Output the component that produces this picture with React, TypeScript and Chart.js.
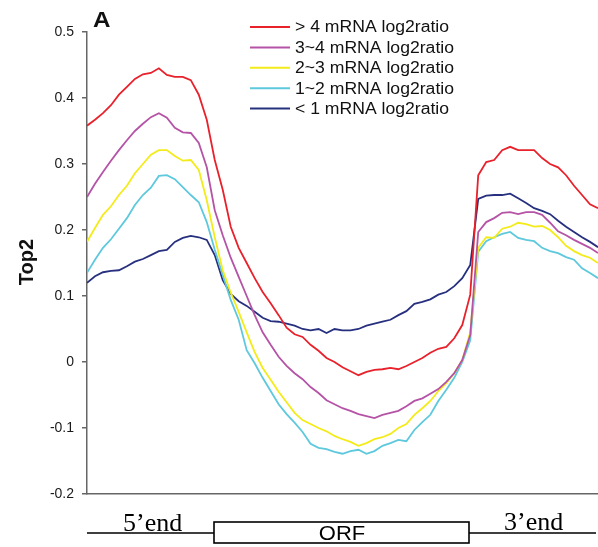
import React, { useEffect, useRef } from "react";
import { Chart, registerables } from "chart.js";

Chart.register(...registerables);

// Position index along the gene model (5' end -> ORF -> 3' end)
const positions: number[] = Array.from({ length: 65 }, (_, i) => i);

const seriesLabels = [
  "> 4 mRNA log2ratio",
  "3~4 mRNA log2ratio",
  "2~3 mRNA log2ratio",
  "1~2 mRNA log2ratio",
  "< 1 mRNA log2ratio",
];

const seriesColors = ["#e8212b", "#b553a6", "#f4eb1a", "#5ec8dd", "#27307f"];

const gt4 = [
  0.358, 0.367, 0.377, 0.389, 0.405, 0.417, 0.429, 0.436, 0.438, 0.445,
  0.435, 0.432, 0.432, 0.427, 0.405, 0.367, 0.306, 0.261, 0.205, 0.173,
  0.15, 0.127, 0.106, 0.089, 0.071, 0.052, 0.042, 0.038, 0.026, 0.017,
  0.006, 0.0, -0.008, -0.014, -0.02, -0.015, -0.012, -0.011, -0.009, -0.011,
  -0.006, 0.0, 0.006, 0.014, 0.02, 0.023, 0.036, 0.056, 0.102, 0.283,
  0.303, 0.306, 0.321, 0.326, 0.321, 0.321, 0.321, 0.309, 0.3, 0.295,
  0.283, 0.267, 0.253, 0.239, 0.233,
];

const r3to4 = [
  0.25, 0.27, 0.288, 0.305, 0.321, 0.336, 0.35, 0.361, 0.371, 0.377,
  0.37, 0.355, 0.348, 0.347, 0.332, 0.295, 0.23, 0.192, 0.158, 0.129,
  0.1, 0.071, 0.045, 0.026, 0.008, -0.006, -0.017, -0.026, -0.038, -0.047,
  -0.058, -0.064, -0.07, -0.074, -0.079, -0.082, -0.085, -0.08, -0.077, -0.074,
  -0.067, -0.059, -0.055, -0.048, -0.041, -0.03, -0.017, 0.003, 0.041, 0.197,
  0.212, 0.218, 0.226, 0.227, 0.224, 0.227, 0.227, 0.223, 0.211, 0.198,
  0.192, 0.185, 0.179, 0.173, 0.165,
];

const r2to3 = [
  0.182, 0.203, 0.223, 0.236, 0.253, 0.267, 0.286, 0.3, 0.314, 0.321,
  0.321, 0.312, 0.305, 0.306, 0.291, 0.245, 0.189, 0.139, 0.105, 0.076,
  0.045, 0.015, -0.009, -0.027, -0.045, -0.061, -0.077, -0.088, -0.094, -0.1,
  -0.105, -0.112, -0.117, -0.121, -0.127, -0.123, -0.117, -0.114, -0.109, -0.1,
  -0.094, -0.08, -0.07, -0.059, -0.044, -0.032, -0.017, 0.003, 0.045, 0.173,
  0.189, 0.188, 0.202, 0.205, 0.211, 0.209, 0.205, 0.206, 0.2, 0.189,
  0.176, 0.168, 0.162, 0.158, 0.15,
];

const r1to2 = [
  0.135, 0.155, 0.173, 0.186, 0.202, 0.218, 0.238, 0.253, 0.264, 0.282,
  0.283, 0.277, 0.265, 0.253, 0.242, 0.212, 0.17, 0.132, 0.094, 0.064,
  0.018, -0.002, -0.024, -0.044, -0.064, -0.079, -0.092, -0.106, -0.124, -0.13,
  -0.132, -0.136, -0.139, -0.135, -0.133, -0.139, -0.135, -0.127, -0.123, -0.118,
  -0.12, -0.103, -0.091, -0.08, -0.059, -0.042, -0.024, 0.0, 0.033, 0.167,
  0.183, 0.189, 0.194, 0.197, 0.188, 0.185, 0.183, 0.173, 0.168, 0.165,
  0.159, 0.155, 0.142, 0.135, 0.127,
];

const lt1 = [
  0.12, 0.13, 0.136, 0.138, 0.139, 0.145, 0.152, 0.156, 0.162, 0.168,
  0.17, 0.182, 0.188, 0.191, 0.189, 0.185, 0.162, 0.124, 0.103, 0.092,
  0.085, 0.076, 0.067, 0.062, 0.061, 0.058, 0.055, 0.05, 0.048, 0.05,
  0.044, 0.05, 0.048, 0.048, 0.05, 0.055, 0.058, 0.061, 0.064, 0.071,
  0.077, 0.088, 0.091, 0.095, 0.102, 0.106, 0.115, 0.127, 0.147, 0.247,
  0.252, 0.253, 0.253, 0.255, 0.248, 0.241, 0.233, 0.229, 0.224, 0.214,
  0.205, 0.197, 0.189, 0.182, 0.174,
];

const seriesValues = [gt4, r3to4, r2to3, r1to2, lt1];

const yTickValues = [-0.2, -0.1, 0, 0.1, 0.2, 0.3, 0.4, 0.5];
const yTickLabels = ["-0.2", "-0.1", "0", "0.1", "0.2", "0.3", "0.4", "0.5"];
const yTitle = "Top2";
const panelLetter = "A";
const geneLabels = { five: "5\u2019end", orf: "ORF", three: "3\u2019end" };

const SANS = "'Liberation Sans', Arial, sans-serif";
const SERIF = "'Liberation Serif', 'Times New Roman', serif";

const decorPlugin = {
  id: "decor",
  afterDraw(chart: any) {
    const ctx = chart.ctx as CanvasRenderingContext2D;
    const area = chart.chartArea;
    ctx.save();

    // Panel letter
    ctx.fillStyle = "#111";
    ctx.font = `bold 22px ${SANS}`;
    ctx.textBaseline = "alphabetic";
    ctx.textAlign = "left";
    ctx.save();
    ctx.translate(93, 27);
    ctx.scale(1.1, 1);
    ctx.fillText(panelLetter, 0, 0);
    ctx.restore();

    // Y title
    ctx.save();
    ctx.translate(33, 262);
    ctx.rotate(-Math.PI / 2);
    ctx.font = `bold 20px ${SANS}`;
    ctx.textAlign = "center";
    ctx.fillText(yTitle, 0, 0);
    ctx.restore();

    // Legend
    chart.data.datasets.forEach((ds: any, i: number) => {
      const y = 27 + i * 20.4;
      ctx.strokeStyle = ds.borderColor;
      ctx.lineWidth = 2;
      ctx.beginPath();
      ctx.moveTo(250, y);
      ctx.lineTo(290, y);
      ctx.stroke();
      ctx.save();
      ctx.translate(295, y);
      ctx.scale(1.1, 1);
      ctx.fillStyle = "#111";
      ctx.font = `16px ${SANS}`;
      ctx.textBaseline = "middle";
      ctx.textAlign = "left";
      ctx.fillText(ds.label, 0, 1);
      ctx.restore();
    });

    // Gene model below the axis
    const gy = 533;
    ctx.strokeStyle = "#000";
    ctx.lineWidth = 1.4;
    ctx.beginPath();
    ctx.moveTo(area.left, gy);
    ctx.lineTo(214, gy);
    ctx.moveTo(469, gy);
    ctx.lineTo(596, gy);
    ctx.stroke();
    ctx.lineWidth = 1.6;
    ctx.strokeRect(214, 522, 255, 21);

    ctx.fillStyle = "#000";
    ctx.font = `26px ${SERIF}`;
    ctx.textAlign = "left";
    ctx.textBaseline = "alphabetic";
    ctx.fillText(geneLabels.five, 123, 531);
    ctx.fillText(geneLabels.three, 504, 530);

    ctx.save();
    ctx.translate(342, 540);
    ctx.scale(1.1, 1);
    ctx.font = `20px ${SANS}`;
    ctx.textAlign = "center";
    ctx.fillText(geneLabels.orf, 0, 0);
    ctx.restore();

    ctx.restore();
  },
};

export default function App() {
  const ref = useRef<HTMLCanvasElement | null>(null);

  useEffect(() => {
    if (!ref.current) return;
    const chart = new Chart(ref.current, {
      type: "line",
      data: {
        datasets: seriesValues.map((vals, i) => ({
          label: seriesLabels[i],
          data: vals.map((v, j) => ({ x: positions[j], y: v })),
          borderColor: seriesColors[i],
          backgroundColor: seriesColors[i],
          borderWidth: 1.8,
          pointRadius: 0,
          tension: 0,
          fill: false,
        })),
      },
      options: {
        responsive: false,
        animation: false,
        layout: { padding: { top: 32, right: 0, bottom: 0, left: 0 } },
        plugins: {
          legend: { display: false },
          tooltip: { enabled: false },
          title: { display: false },
        },
        scales: {
          x: {
            type: "linear",
            min: positions[0],
            max: positions[positions.length - 1],
            ticks: { display: false },
            grid: { display: false },
            border: { display: true, color: "#666", width: 1.5 },
            afterFit(scale: any) {
              scale.height = 53;
            },
          },
          y: {
            min: yTickValues[0],
            max: yTickValues[yTickValues.length - 1],
            afterBuildTicks(scale: any) {
              scale.ticks = yTickValues.map((v) => ({ value: v }));
            },
            ticks: {
              padding: 8,
              color: "#1a1a1a",
              font: { family: SANS, size: 14 },
              callback: (v: any) => {
                const idx = yTickValues.findIndex((t) => Math.abs(t - Number(v)) < 1e-9);
                return idx >= 0 ? yTickLabels[idx] : "";
              },
            },
            grid: {
              drawOnChartArea: false,
              drawTicks: true,
              tickLength: 5,
              color: "#666",
              lineWidth: 1.5,
            },
            border: { display: true, color: "#666", width: 1.5 },
            afterFit(scale: any) {
              scale.width = 87;
            },
          },
        },
      },
      plugins: [decorPlugin],
    });
    return () => chart.destroy();
  }, []);

  return (
    <div style={{ position: "absolute", left: 0, top: 0, width: 598, height: 547, background: "#fff" }}>
      <canvas ref={ref} width={598} height={547} style={{ width: 598, height: 547, display: "block" }} />
    </div>
  );
}
